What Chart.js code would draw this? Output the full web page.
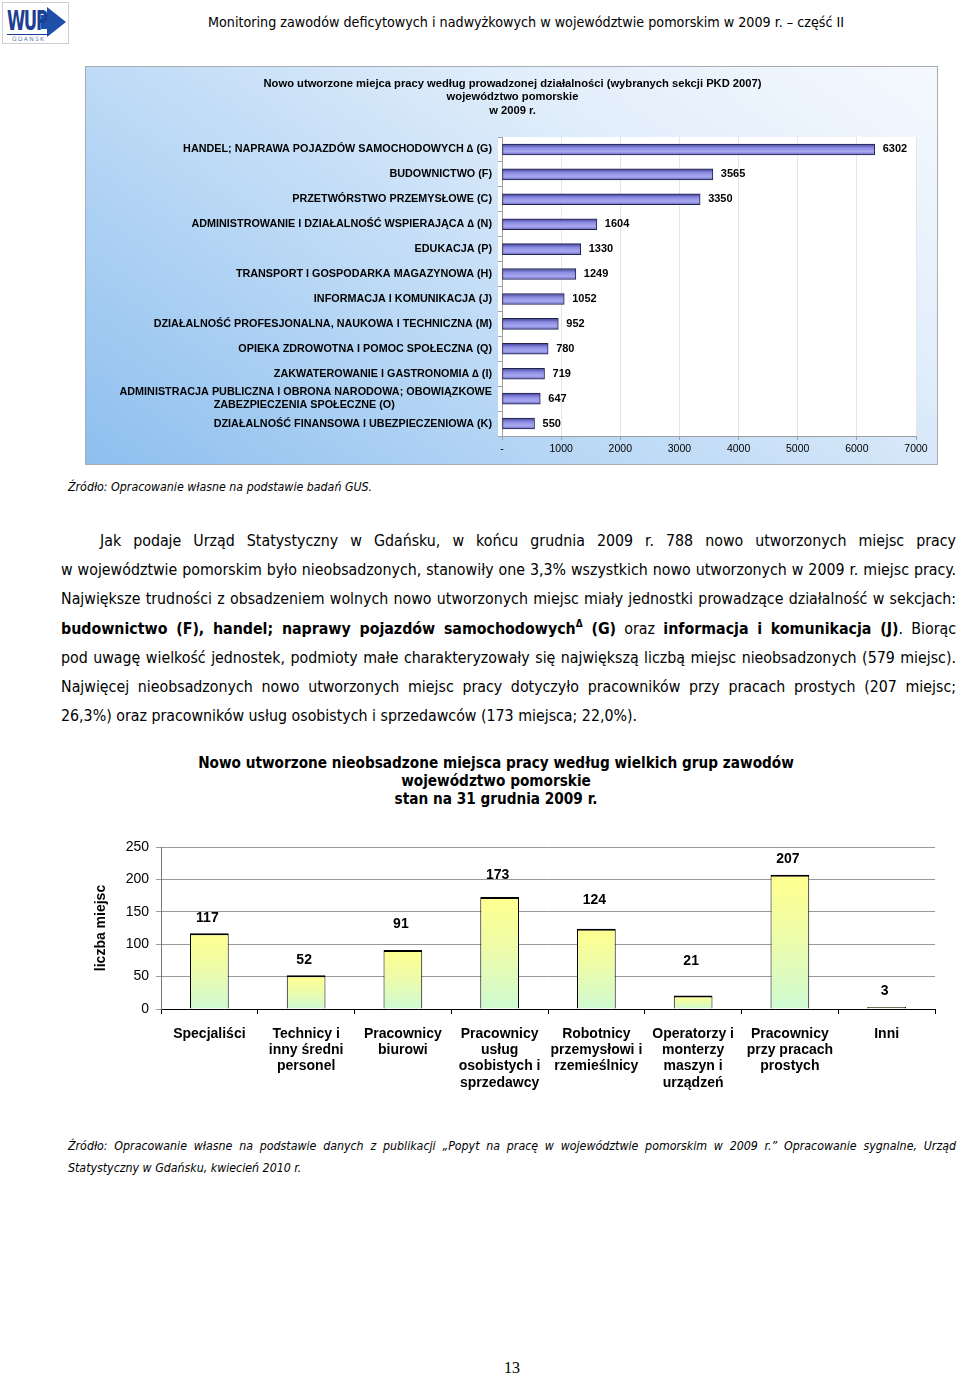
<!DOCTYPE html>
<html><head><meta charset="utf-8">
<script src="https://cdn.jsdelivr.net/npm/chart.js@4.4.1/dist/chart.umd.min.js"></script>
<style>
html,body{margin:0;padding:0;background:#fff;}
body{width:960px;height:1376px;position:relative;overflow:hidden;font-family:'DejaVu Sans Condensed','DejaVu Sans',sans-serif;color:#000;}
.abs{position:absolute;}
#logo{left:2px;top:2px;width:65px;height:40px;border:1px solid #cfcfcf;background:#fff;overflow:hidden;}
#logo .wup{position:absolute;left:4px;top:4px;font:bold 27px/28px 'DejaVu Sans Condensed','Liberation Sans Narrow',sans-serif;color:#1b3f94;letter-spacing:-2px;transform:scaleX(0.68);transform-origin:left top;}
#logo .arrow{position:absolute;left:44px;top:4px;width:0;height:0;border-top:15px solid transparent;border-bottom:15px solid transparent;border-left:19px solid #1f4fa8;}
#logo .arrowbar{position:absolute;left:38px;top:12px;width:7px;height:14px;background:#1f4fa8;}
#logo .line{position:absolute;left:4px;top:31px;width:42px;height:1px;background:#1b3f94;}
#logo .city{position:absolute;left:9px;top:32px;font:6px/7px 'DejaVu Sans',sans-serif;color:#6a7fae;letter-spacing:1.3px;}
#header{left:208px;top:13px;font-size:14.2px;line-height:18px;white-space:nowrap;}
#box1{left:85px;top:66px;width:853px;height:399px;border:1px solid #a7acb3;box-sizing:border-box;
  background:linear-gradient(35deg,#8dbfee 0%,#b8d7f5 35%,#e2eefb 70%,#f5f9fe 100%);}
#c1{position:absolute;left:0;top:0;}
.src{font-style:italic;font-size:12.3px;white-space:nowrap;}
#src1{left:68px;top:479px;line-height:16px;}
#para{left:61px;top:526px;width:895px;font-size:15.8px;line-height:29.2px;}
#para div{white-space:nowrap;text-align:justify;text-align-last:justify;}
#para div.last{text-align-last:left;}
#para sup{font-size:10px;line-height:0;vertical-align:7px;}
#title2{left:150px;top:754px;width:692px;text-align:center;font-weight:bold;font-size:15.2px;line-height:18px;}
#c2wrap{left:85px;top:830px;width:865px;height:270px;}
#src2{left:68px;top:1135px;width:888px;line-height:22px;}
#src2 div{white-space:nowrap;text-align:justify;text-align-last:justify;}
#src2 div.last{text-align-last:left;}
#pnum{left:492px;top:1358px;width:40px;text-align:center;font:16px/20px 'Liberation Serif','DejaVu Serif',serif;}
</style></head>
<body>
<div id="logo" class="abs"><div class="arrowbar"></div><div class="arrow"></div><div class="wup">WUP</div><div class="line"></div><div class="city">GDAŃSK</div></div>
<div id="header" class="abs">Monitoring zawodów deficytowych i nadwyżkowych w województwie pomorskim w 2009 r. – część II</div>

<div id="box1" class="abs"><canvas id="c1"></canvas></div>
<div id="src1" class="abs src">Źródło: Opracowanie własne na podstawie badań GUS.</div>

<div id="para" class="abs">
<div style="padding-left:39px">Jak podaje Urząd Statystyczny w Gdańsku, w końcu grudnia 2009 r. 788 nowo utworzonych miejsc pracy</div>
<div>w województwie pomorskim było nieobsadzonych, stanowiły one 3,3% wszystkich nowo utworzonych w 2009 r. miejsc pracy.</div>
<div>Największe trudności z obsadzeniem wolnych nowo utworzonych miejsc miały jednostki prowadzące działalność w sekcjach:</div>
<div><b>budownictwo (F), handel; naprawy pojazdów samochodowych<sup>Δ</sup> (G)</b> oraz <b>informacja i komunikacja (J)</b>. Biorąc</div>
<div>pod uwagę wielkość jednostek, podmioty małe charakteryzowały się największą liczbą miejsc nieobsadzonych (579 miejsc).</div>
<div>Najwięcej nieobsadzonych nowo utworzonych miejsc pracy dotyczyło pracowników przy pracach prostych (207 miejsc;</div>
<div class="last">26,3%) oraz pracowników usług osobistych i sprzedawców (173 miejsca; 22,0%).</div>
</div>

<div id="title2" class="abs">Nowo utworzone nieobsadzone miejsca pracy według wielkich grup zawodów<br>województwo pomorskie<br>stan na 31 grudnia 2009 r.</div>
<div id="c2wrap" class="abs"><canvas id="c2"></canvas></div>

<div id="src2" class="abs src">
<div>Źródło: Opracowanie własne na podstawie danych z publikacji „Popyt na pracę w województwie pomorskim w 2009 r.” Opracowanie sygnalne, Urząd</div>
<div class="last">Statystyczny w Gdańsku, kwiecień 2010 r.</div>
</div>
<div id="pnum" class="abs">13</div>

<script>
// ---------- DATA: chart 1 ----------
const chart1Title = ['Nowo utworzone miejca pracy według prowadzonej działalności (wybranych sekcji PKD 2007)', 'województwo pomorskie', 'w 2009 r.'];
const sectors = [
  ['HANDEL; NAPRAWA POJAZDÓW SAMOCHODOWYCH ∆ (G)'],
  ['BUDOWNICTWO (F)'],
  ['PRZETWÓRSTWO PRZEMYSŁOWE (C)'],
  ['ADMINISTROWANIE I DZIAŁALNOŚĆ WSPIERAJĄCA ∆ (N)'],
  ['EDUKACJA (P)'],
  ['TRANSPORT I GOSPODARKA MAGAZYNOWA (H)'],
  ['INFORMACJA I KOMUNIKACJA (J)'],
  ['DZIAŁALNOŚĆ PROFESJONALNA, NAUKOWA I TECHNICZNA (M)'],
  ['OPIEKA ZDROWOTNA I POMOC SPOŁECZNA (Q)'],
  ['ZAKWATEROWANIE I GASTRONOMIA ∆ (I)'],
  ['ADMINISTRACJA PUBLICZNA I OBRONA NARODOWA; OBOWIĄZKOWE', 'ZABEZPIECZENIA SPOŁECZNE (O)'],
  ['DZIAŁALNOŚĆ FINANSOWA I UBEZPIECZENIOWA (K)']
];
const newJobs = [6302, 3565, 3350, 1604, 1330, 1249, 1052, 952, 780, 719, 647, 550];
const jobsAxisMin = 0, jobsAxisMax = 7000, jobsAxisStep = 1000;

// ---------- DATA: chart 2 ----------
const occupationGroups = [
  ['Specjaliści'],
  ['Technicy i', 'inny średni', 'personel'],
  ['Pracownicy', 'biurowi'],
  ['Pracownicy', 'usług', 'osobistych i', 'sprzedawcy'],
  ['Robotnicy', 'przemysłowi i', 'rzemieślnicy'],
  ['Operatorzy i', 'monterzy', 'maszyn i', 'urządzeń'],
  ['Pracownicy', 'przy pracach', 'prostych'],
  ['Inni']
];
const vacancies = [117, 52, 91, 173, 124, 21, 207, 3];
const vacAxisMin = 0, vacAxisMax = 250, vacAxisStep = 50;
const vacAxisTitle = 'liczba miejsc';

// ---------- helpers ----------
const SANS = "'Liberation Sans', Arial, sans-serif";
const measureCtx = document.createElement('canvas').getContext('2d');
function centerLines(lines, font) {
  if (!Array.isArray(lines) || lines.length < 2) return lines;
  measureCtx.font = font;
  const w = lines.map(l => measureCtx.measureText(l).width);
  const max = Math.max(...w);
  const sp = measureCtx.measureText('\u2002').width;
  return lines.map((l, i) => l + '\u2002'.repeat(Math.round((max - w[i]) / 2 / sp)));
}
const ok = (...v) => v.every(n => Number.isFinite(n));

const plotBg = {
  id: 'plotBg',
  beforeDraw(chart, args, opts) {
    if (!opts.color) return;
    const {ctx, chartArea: a} = chart;
    ctx.save(); ctx.fillStyle = opts.color;
    ctx.fillRect(a.left - 4, a.top, a.right - a.left + 5, a.bottom - a.top);
    ctx.restore();
  }
};

// title centred on the whole box (independent of layout padding)
const boxTitle = {
  id: 'boxTitle',
  afterDraw(chart, args, opts) {
    if (!opts.text) return;
    const {ctx, width} = chart;
    ctx.save();
    ctx.font = opts.font; ctx.fillStyle = '#000';
    ctx.textAlign = 'center'; ctx.textBaseline = 'middle';
    opts.text.forEach((t, i) => ctx.fillText(t, width / 2 + opts.dx, opts.top + i * opts.lineHeight));
    ctx.restore();
  }
};

const valueLabels = {
  id: 'valueLabels',
  afterDatasetsDraw(chart, args, opts) {
    const {ctx} = chart;
    const meta = chart.getDatasetMeta(0);
    const data = chart.data.datasets[0].data;
    ctx.save();
    ctx.font = opts.font; ctx.fillStyle = '#000';
    meta.data.forEach((el, i) => {
      if (opts.horizontal) {
        ctx.textAlign = 'left'; ctx.textBaseline = 'middle';
        ctx.fillText(String(data[i]), el.x + opts.offset, el.y);
      } else {
        ctx.textAlign = 'center'; ctx.textBaseline = 'middle';
        const off = opts.offsets ? opts.offsets[i] : opts.offset;
        ctx.fillText(String(data[i]), el.x - 2, el.y - off);
      }
    });
    ctx.restore();
  }
};

// ---------- chart 1 ----------
const c1 = document.getElementById('c1');
c1.width = 851; c1.height = 397;
c1.style.width = '851px'; c1.style.height = '397px';
const yFont1 = 'bold 10.8px ' + SANS;

new Chart(c1, {
  type: 'bar',
  data: {
    labels: sectors,
    datasets: [{
      data: newJobs,
      barThickness: 11,
      borderColor: '#23234a',
      borderWidth: 1,
      borderSkipped: false,
      backgroundColor(ctx) {
        const ch = ctx.chart;
        if (!ch.scales || !ch.scales.y || ctx.dataIndex === undefined) return '#7d7dd8';
        const y = ch.scales.y.getPixelForValue(ctx.dataIndex);
        if (!ok(y)) return '#7d7dd8';
        const g = ch.ctx.createLinearGradient(0, y - 5.5, 0, y + 5.5);
        g.addColorStop(0, '#3f3f95');
        g.addColorStop(0.35, '#8c8ce2');
        g.addColorStop(0.7, '#a9a9f0');
        g.addColorStop(1, '#6c6cc6');
        return g;
      }
    }]
  },
  options: {
    indexAxis: 'y',
    responsive: false,
    animation: false,
    devicePixelRatio: 1,
    layout: {padding: {top: 70, right: 21, left: 0, bottom: 0}},
    plugins: {
      legend: {display: false},
      tooltip: {enabled: false},
      title: {display: false},
      boxTitle: {text: chart1Title, font: 'bold 11.2px ' + SANS, top: 16.5, lineHeight: 13.5, dx: 1},
      plotBg: {color: '#ffffff'},
      valueLabels: {horizontal: true, offset: 8, font: 'bold 11px ' + SANS}
    },
    scales: {
      x: {
        min: jobsAxisMin, max: jobsAxisMax,
        ticks: {stepSize: jobsAxisStep, color: '#000', font: {family: SANS, size: 10.5}, padding: 3,
          callback: v => v === 0 ? '-' : String(v)},
        grid: {color: '#e6e6e6', tickColor: '#9aa0a6', tickLength: 4},
        border: {color: '#9aa0a6'},
        afterFit(s) { s.height = 28; }
      },
      y: {
        offset: true,
        ticks: {color: '#000', font: {family: SANS, size: 10.8, weight: 'bold', lineHeight: 1.25}, padding: 6, autoSkip: false,
          callback(v, i) { return centerLines(sectors[i], yFont1); }},
        grid: {drawOnChartArea: false, offset: true, tickColor: '#9aa0a6', tickLength: 4},
        border: {color: '#9aa0a6'},
        afterFit(s) { s.width = 416; }
      }
    }
  },
  plugins: [plotBg, valueLabels, boxTitle]
});

// ---------- chart 2 ----------
const c2 = document.getElementById('c2');
c2.width = 865; c2.height = 270;
c2.style.width = '865px'; c2.style.height = '270px';

new Chart(c2, {
  type: 'bar',
  data: {
    labels: occupationGroups,
    datasets: [{
      data: vacancies,
      categoryPercentage: 1,
      barPercentage: 0.4,
      borderColor: '#000',
      borderWidth: {top: 2, left: 1, right: 1, bottom: 0},
      borderSkipped: false,
      backgroundColor(ctx) {
        const ch = ctx.chart;
        if (!ch.scales || !ch.scales.y || ctx.dataIndex === undefined) return '#eeffaa';
        const top = ch.scales.y.getPixelForValue(vacancies[ctx.dataIndex]);
        const base = ch.scales.y.getPixelForValue(0);
        if (!ok(top, base) || base - top < 0.5) return '#eeffaa';
        const g = ch.ctx.createLinearGradient(0, top, 0, base);
        g.addColorStop(0, '#ffff8e');
        g.addColorStop(0.45, '#eefca8');
        g.addColorStop(1, '#cffad2');
        return g;
      }
    }]
  },
  options: {
    responsive: false,
    animation: false,
    devicePixelRatio: 1,
    layout: {padding: {top: 17, right: 15, left: 8, bottom: 0}},
    plugins: {
      legend: {display: false},
      tooltip: {enabled: false},
      valueLabels: {horizontal: false, offsets: [15, 15, 26, 22, 29, 34, 16, 16], font: 'bold 14px ' + SANS}
    },
    scales: {
      x: {
        ticks: {color: '#000', font: {family: SANS, size: 14, weight: 'bold', lineHeight: 1.16}, padding: 12,
          maxRotation: 0, autoSkip: false},
        grid: {drawOnChartArea: false, offset: true, tickColor: '#000', tickLength: 5},
        border: {color: '#000'},
        afterFit(s) { s.height = 91; }
      },
      y: {
        min: vacAxisMin, max: vacAxisMax,
        ticks: {stepSize: vacAxisStep, color: '#000', font: {family: SANS, size: 14}, padding: 7},
        grid: {color: '#9a9a9a', tickColor: '#9a9a9a', tickLength: 5},
        border: {color: '#777'},
        title: {display: true, text: vacAxisTitle, color: '#000', font: {family: SANS, size: 14, weight: 'bold'}, padding: {top: 0, bottom: 0}},
        afterFit(s) { s.width = 68; }
      }
    }
  },
  plugins: [valueLabels]
});
</script>
</body></html>
